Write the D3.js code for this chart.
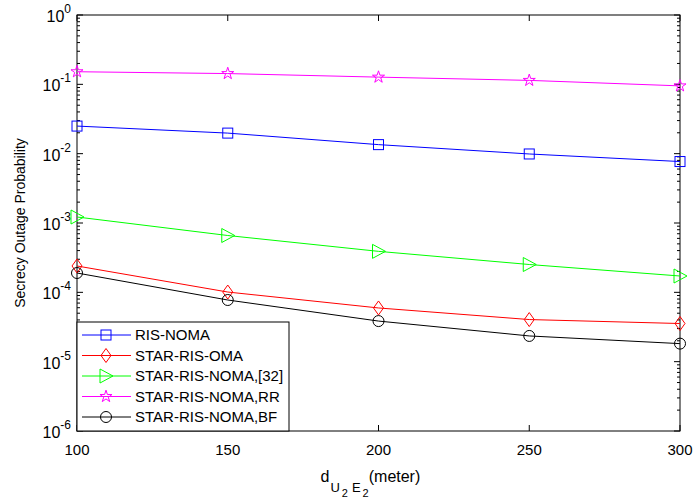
<!DOCTYPE html>
<html>
<head>
<meta charset="utf-8">
<script src="https://cdn.jsdelivr.net/npm/d3@7"></script>
<style>
  body { margin: 0; background: #fff; }
  text { font-family: "Liberation Sans", Arial, sans-serif; }
</style>
</head>
<body>
<div id="chart"></div>
<script>
// distances d_{U2E2} in meters
const distances = [100, 150, 200, 250, 300];

// secrecy outage probability per scheme
const risNoma     = [0.025, 0.0198, 0.0135, 0.0099, 0.0077];
const starOma     = [0.00024, 0.000101, 0.0000595, 0.0000405, 0.0000355];
const starNoma32  = [0.00122, 0.00066, 0.00039, 0.000252, 0.000172];
const starNomaRR  = [0.152, 0.143, 0.127, 0.114, 0.095];
const starNomaBF  = [0.00019, 0.0000775, 0.0000385, 0.0000235, 0.0000182];

const yTicks = [1e-6, 1e-5, 1e-4, 1e-3, 1e-2, 1e-1, 1];

const series = [
  { name: "RIS-NOMA", values: risNoma, color: "#0000ff", marker: "square" },
  { name: "STAR-RIS-OMA", values: starOma, color: "#ff0000", marker: "diamond" },
  { name: "STAR-RIS-NOMA,[32]", values: starNoma32, color: "#00ff00", marker: "triangle" },
  { name: "STAR-RIS-NOMA,RR", values: starNomaRR, color: "#ff00ff", marker: "star" },
  { name: "STAR-RIS-NOMA,BF", values: starNomaBF, color: "#000000", marker: "circle" }
];

const width = 694, height = 498;
const margin = { top: 15, right: 14, bottom: 67, left: 77 };
const iw = width - margin.left - margin.right,
      ih = height - margin.top - margin.bottom;

const svg = d3.select("#chart").append("svg")
    .attr("width", width)
    .attr("height", height)
    .style("background", "#fff");

const g = svg.append("g").attr("transform", `translate(${margin.left},${margin.top})`);

const x = d3.scaleLinear().domain([100, 300]).range([0, iw]);
const y = d3.scaleLog().domain([1e-6, 1]).range([ih, 0]);

// minor ticks for the log axis
const minor = [];
for (let e = -6; e < 0; e++) {
  for (let m = 2; m <= 9; m++) minor.push(m * Math.pow(10, e));
}

// axes box
g.append("rect")
  .attr("width", iw).attr("height", ih)
  .attr("fill", "none").attr("stroke", "#000").attr("stroke-width", 1);

// ticks (inside, on both sides)
const tickG = g.append("g").attr("stroke", "#000").attr("stroke-width", 1);
distances.forEach(d => {
  tickG.append("line").attr("x1", x(d)).attr("x2", x(d)).attr("y1", ih).attr("y2", ih - 6);
  tickG.append("line").attr("x1", x(d)).attr("x2", x(d)).attr("y1", 0).attr("y2", 6);
});
yTicks.forEach(v => {
  tickG.append("line").attr("x1", 0).attr("x2", 6).attr("y1", y(v)).attr("y2", y(v));
  tickG.append("line").attr("x1", iw).attr("x2", iw - 6).attr("y1", y(v)).attr("y2", y(v));
});
minor.forEach(v => {
  tickG.append("line").attr("x1", 0).attr("x2", 3).attr("y1", y(v)).attr("y2", y(v));
  tickG.append("line").attr("x1", iw).attr("x2", iw - 3).attr("y1", y(v)).attr("y2", y(v));
});

// x tick labels
g.selectAll(".xl").data(distances).enter().append("text")
  .attr("x", d => x(d)).attr("y", ih + 24)
  .attr("text-anchor", "middle")
  .style("font-size", "15px")
  .text(d => d);

// y tick labels 10^k
yTicks.forEach(v => {
  const k = Math.round(Math.log10(v));
  const t = g.append("text")
    .attr("x", -6).attr("y", y(v) + 7)
    .attr("text-anchor", "end")
    .style("font-size", "16px");
  t.append("tspan").text("10");
  t.append("tspan").attr("dy", -9).style("font-size", "12px").text(k);
});

// axis labels
g.append("text")
  .attr("transform", `translate(${-52},${ih / 2}) rotate(-90)`)
  .attr("text-anchor", "middle")
  .style("font-size", "14px")
  .text("Secrecy Outage Probability");

const xl = g.append("text")
  .attr("x", iw / 2 - 58).attr("y", ih + 51)
  .style("font-size", "16px");
xl.append("tspan").text("d");
xl.append("tspan").attr("dy", 10).attr("dx", 1).style("font-size", "13px").text("U");
xl.append("tspan").attr("dy", 5).attr("dx", 2).style("font-size", "11px").text("2");
xl.append("tspan").attr("dy", -5).attr("dx", 4).style("font-size", "13px").text("E");
xl.append("tspan").attr("dy", 5).attr("dx", 2).style("font-size", "11px").text("2");
xl.append("tspan").attr("dy", -15).style("font-size", "16px").text("(meter)");

// marker drawing
function drawMarker(sel, type, color) {
  if (type === "square") {
    sel.append("rect").attr("x", -5).attr("y", -5).attr("width", 10).attr("height", 10);
  } else if (type === "diamond") {
    sel.append("path").attr("d", "M0,-7L5,0L0,7L-5,0Z");
  } else if (type === "triangle") {
    sel.append("path").attr("d", "M-6,-7L7,0L-6,7Z");
  } else if (type === "star") {
    sel.append("path").attr("d", d3.symbol(d3.symbolStar, 45)());
  } else if (type === "circle") {
    sel.append("circle").attr("r", 5.5);
  }
  sel.selectAll("*").attr("fill", "none").attr("stroke", color).attr("stroke-width", 1);
}

const line = d3.line().x((d, i) => x(distances[i])).y(d => y(d));

series.forEach(s => {
  g.append("path")
    .datum(s.values)
    .attr("fill", "none")
    .attr("stroke", s.color)
    .attr("stroke-width", 1)
    .attr("d", line);
  s.values.forEach((v, i) => {
    const m = g.append("g").attr("transform", `translate(${x(distances[i])},${y(v)})`);
    drawMarker(m, s.marker, s.color);
  });
});

// legend
const lg = g.append("g").attr("transform", `translate(0,${ih - 109})`);
lg.append("rect")
  .attr("width", 212).attr("height", 109)
  .attr("fill", "#fff").attr("stroke", "#000").attr("stroke-width", 1);
series.forEach((s, i) => {
  const yy = 13 + i * 20.5;
  lg.append("line").attr("x1", 5).attr("x2", 54).attr("y1", yy).attr("y2", yy)
    .attr("stroke", s.color).attr("stroke-width", 1);
  const m = lg.append("g").attr("transform", `translate(29,${yy})`);
  drawMarker(m, s.marker, s.color);
  lg.append("text").attr("x", 58).attr("y", yy + 5)
    .style("font-size", "15px").text(s.name);
});
</script>
</body>
</html>
